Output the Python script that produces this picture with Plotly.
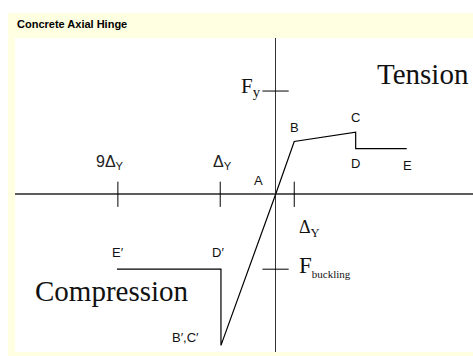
import plotly.graph_objects as go

# ---- data (x in units of Δy, y in units of Fy) ----
tension_x = [0.0, 1.0, 4.32, 4.32, 7.08]
tension_y = [0.0, 0.51, 0.60, 0.44, 0.44]
tension_labels = ["A", "B", "C", "D", "E"]

compression_x = [0.0, -2.96, -2.96, -8.58]
compression_y = [0.0, -1.47, -0.73, -0.73]
compression_labels = ["", "B′,C′", "D′", "E′"]

x_tick_pos = [-8.53, -3.0, 1.0]
x_tick_labels = ["9Δ<sub>Y</sub>", "Δ<sub>Y</sub>", "Δ<sub>Y</sub>"]
y_tick_pos = [1.0, -0.73]
y_tick_labels = ["F<sub>y</sub>", "F<sub><span style='font-size:11px'>buckling</span></sub>"]

title_text = "Concrete Axial Hinge"
region_labels = ["Tension", "Compression"]

W, H = 473, 356
YELLOW = "#FFFFE1"
SERIF = "Liberation Serif, Times New Roman, serif"
SANS = "Liberation Sans, Arial, sans-serif"

fig = go.Figure()
fig.add_trace(go.Scatter(x=tension_x, y=tension_y, mode="lines",
                         line=dict(color="black", width=1.2), hoverinfo="skip"))
fig.add_trace(go.Scatter(x=compression_x, y=compression_y, mode="lines",
                         line=dict(color="black", width=1.2), hoverinfo="skip"))

shapes = []
# tick marks on the x axis
for xv in x_tick_pos:
    shapes.append(dict(type="line", xref="x", yref="y", x0=xv, x1=xv, y0=-0.125, y1=0.12,
                       line=dict(color="black", width=1)))
# tick marks on the y axis
for yv in y_tick_pos:
    shapes.append(dict(type="line", xref="x", yref="y", x0=-0.72, x1=0.7, y0=yv, y1=yv,
                       line=dict(color="black", width=1)))
# white strips outside the yellow frame
shapes.append(dict(type="rect", xref="paper", yref="paper", x0=-0.04, x1=1.01,
                   y0=1.0796, y1=1.13, fillcolor="white", line=dict(width=0), layer="above"))
shapes.append(dict(type="rect", xref="paper", yref="paper", x0=-0.04, x1=-0.0153,
                   y0=-0.02, y1=1.13, fillcolor="white", line=dict(width=0), layer="above"))

ann = []
# title
ann.append(dict(text="<b>" + title_text + "</b>", xref="paper", yref="paper", x=0.0, y=1.045,
                xanchor="left", yanchor="middle", showarrow=False,
                font=dict(family=SANS, size=11, color="black")))
# point labels (tension)
t_shift = [(-17, 14), (0, 14), (0, 15), (0, -15), (1, -17)]
for xv, yv, lab, (dx, dy) in zip(tension_x, tension_y, tension_labels, t_shift):
    ann.append(dict(text=lab, x=xv, y=yv, xref="x", yref="y", xshift=dx, yshift=dy,
                    showarrow=False, font=dict(family=SANS, size=13, color="#111")))
# point labels (compression)
c_shift = [(0, 0), (-35, 8), (-3, 17), (1, 17)]
for xv, yv, lab, (dx, dy) in zip(compression_x, compression_y, compression_labels, c_shift):
    if lab:
        ann.append(dict(text=lab, x=xv, y=yv, xref="x", yref="y", xshift=dx, yshift=dy,
                        showarrow=False, font=dict(family=SANS, size=13, color="#111")))
# x tick labels
ann.append(dict(text=x_tick_labels[0], x=x_tick_pos[0], y=0, xref="x", yref="y",
                xshift=-8, yshift=32, showarrow=False,
                font=dict(family=SANS, size=16, color="#222")))
ann.append(dict(text=x_tick_labels[1], x=x_tick_pos[1], y=0, xref="x", yref="y",
                xshift=2, yshift=32, showarrow=False,
                font=dict(family=SANS, size=16, color="#222")))
ann.append(dict(text=x_tick_labels[2], x=x_tick_pos[2], y=0, xref="x", yref="y",
                xanchor="left", xshift=3, yshift=-34, showarrow=False,
                font=dict(family=SERIF, size=18, color="#111")))
# y tick labels
ann.append(dict(text=y_tick_labels[0], x=-0.72, y=y_tick_pos[0], xref="x", yref="y",
                xanchor="right", xshift=1, yshift=4, showarrow=False,
                font=dict(family=SERIF, size=21, color="#111")))
ann.append(dict(text=y_tick_labels[1], x=0, y=y_tick_pos[1], xref="x", yref="y",
                xanchor="left", xshift=21, yshift=3, showarrow=False,
                font=dict(family=SERIF, size=23, color="#111")))
# region labels
ann.append(dict(text=region_labels[0], xref="paper", yref="paper", x=0.891, y=0.885,
                xanchor="center", yanchor="middle", showarrow=False,
                font=dict(family=SERIF, size=29, color="#111")))
ann.append(dict(text=region_labels[1], xref="paper", yref="paper", x=0.212, y=0.194,
                xanchor="center", yanchor="middle", showarrow=False,
                font=dict(family=SERIF, size=29, color="#111")))

axis_common = dict(showgrid=False, showticklabels=False, ticks="", showline=False,
                   fixedrange=True)
fig.update_layout(
    width=W, height=H,
    margin=dict(l=15, r=0, t=38, b=4),
    paper_bgcolor=YELLOW, plot_bgcolor="white",
    showlegend=False,
    xaxis=dict(range=[-14.09, 10.66], zeroline=True, zerolinecolor="#333333",
               zerolinewidth=1.3, **axis_common),
    yaxis=dict(range=[-1.534, 1.515], zeroline=True, zerolinecolor="#5c5c5c",
               zerolinewidth=2.2, **axis_common),
    shapes=shapes, annotations=ann,
)
fig.write_html("out.html", config={"displayModeBar": False},
               post_script="document.body.style.margin='0';document.body.style.overflow='hidden';")
